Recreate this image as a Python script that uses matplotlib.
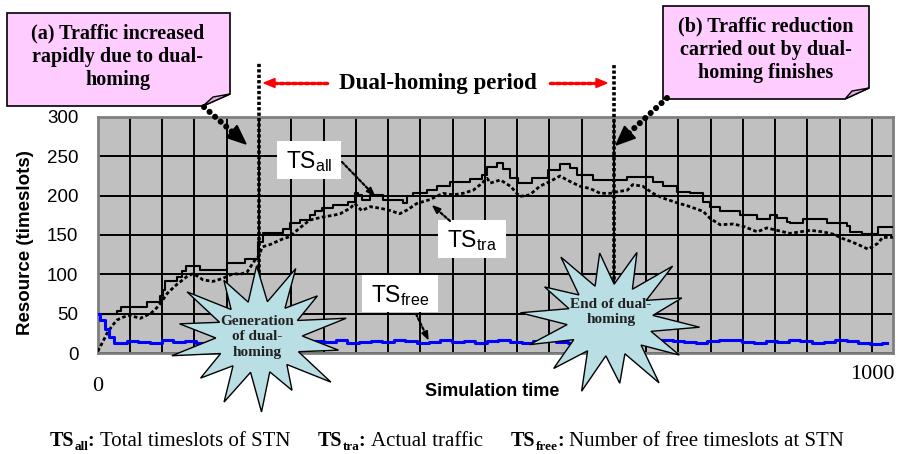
import numpy as np
import matplotlib
matplotlib.use('Agg')
import matplotlib.pyplot as plt
from matplotlib.patches import Polygon, Rectangle
import matplotlib.transforms as mtransforms

plt.rcParams['mathtext.fontset'] = 'custom'
plt.rcParams['mathtext.rm'] = 'Liberation Serif'
plt.rcParams['mathtext.bf'] = 'Liberation Serif:bold'
plt.rcParams['mathtext.sf'] = 'Liberation Sans'

# ---------------- data ----------------
all_x = [0, 25, 30, 64, 80, 84, 87, 102, 109, 114, 132, 167, 190, 207, 213, 239, 248, 261, 274, 281,
         290, 304, 323, 332, 336, 341, 352, 368, 394, 400, 407, 425, 438, 455, 481, 496, 503, 516, 523, 532,
         543, 561, 582, 597, 610, 619, 640, 684, 717, 730, 748, 765, 782, 791, 804, 830, 851, 868, 877, 890,
         894, 911, 942, 968, 972, 987, 1008, 1027]
all_y = [50, 54, 59, 65, 72, 80, 91, 97, 104, 110, 106, 114, 120, 141, 152, 158, 165, 169, 175, 180,
         184, 188, 192, 204, 201, 195, 201, 195, 191, 199, 204, 207, 212, 218, 221, 226, 237, 241, 234, 222,
         216, 222, 233, 240, 235, 226, 220, 224, 218, 212, 205, 203, 192, 186, 181, 175, 170, 175, 171, 167,
         165, 170, 165, 161, 154, 151, 160, 160]

tra_x = [0, 7, 12, 19, 25, 34, 42, 48, 55, 61, 68, 74, 81, 90, 102, 115, 123, 130, 136, 149,
         162, 175, 184, 193, 203, 207, 213, 223, 232, 239, 248, 261, 274, 291, 304, 313, 326, 332, 341, 352,
         365, 378, 390, 400, 412, 429, 446, 459, 472, 485, 494, 503, 507, 520, 533, 545, 558, 571, 584, 597,
         610, 623, 636, 649, 662, 671, 684, 691, 704, 717, 730, 748, 762, 782, 791, 804, 821, 834, 852, 864,
         877, 894, 907, 920, 937, 950, 961, 972, 984, 995, 1007, 1014, 1027]
tra_y = [2, 15, 25, 35, 42, 46, 48, 46, 44, 47, 50, 55, 63, 76, 87, 97, 101, 97, 93, 91,
         95, 101, 100, 103, 118, 122, 135, 138, 142, 145, 148, 159, 169, 173, 175, 177, 184, 190, 181, 186,
         184, 181, 177, 182, 190, 195, 203, 201, 203, 207, 214, 222, 216, 220, 212, 199, 201, 212, 218, 225,
         218, 212, 209, 203, 203, 205, 207, 214, 212, 203, 197, 191, 187, 180, 171, 163, 164, 161, 154, 159,
         156, 152, 154, 156, 154, 151, 146, 142, 137, 132, 139, 147, 147]

free_x = [0, 6, 12, 18, 24] + list(range(30, 1021, 15))
free_y = [50, 42, 30, 20, 13,
          13, 15, 14, 13, 16, 14, 15, 13, 14, 16, 15, 13, 14, 15, 17, 14, 13, 15, 14, 16,
          13, 14, 15, 14, 16, 15, 13, 14, 16, 14, 15, 13, 15, 17, 14, 13, 15, 16, 14, 13,
          15, 14, 16, 17, 15, 13, 14, 16, 15, 14, 13, 15, 17, 16, 14, 13, 15, 14, 16, 15,
          13, 14, 16, 15, 13, 12, 13]

y_ticks = [0, 50, 100, 150, 200, 250, 300]
x_labels = ['0', '1000']
x_label_vals = [0, 1000]
dual_period = [208.3, 666.7]

# ---------------- figure ----------------
W, H = 898, 454
fig = plt.figure(figsize=(W / 100, H / 100), dpi=100)
ax = fig.add_axes([97.7 / W, 101 / H, 795.6 / W, 236 / H])
ax.set_facecolor('#c0c0c0')
ax.set_xlim(0, 1027.5)
ax.set_ylim(0, 300)
ax.set_xticks([k * 1000 / 24 for k in range(25)])
ax.set_xticklabels([])
ax.set_yticks(y_ticks)
ax.set_yticklabels([str(v) for v in y_ticks], fontfamily='Liberation Sans', fontsize=13.5)
ax.tick_params(axis='both', length=0)
ax.tick_params(axis='y', pad=14)
ax.grid(True, color='black', lw=1.4)
ax.set_axisbelow(True)
for s in ax.spines.values():
    s.set_color('#7f7f7f')
    s.set_linewidth(2)

ax.plot(all_x, all_y, color='black', lw=1.5, drawstyle='steps-post', zorder=3)
ax.plot(tra_x, tra_y, color='black', lw=2.0, linestyle=(0, (1.3, 0.9)), zorder=3)
ax.plot(free_x, free_y, color='#0000ff', lw=2.2, drawstyle='steps-mid', zorder=3)

# dual-homing period vertical lines
ax.plot([dual_period[0]] * 2, [67, 370], color='black', lw=2.6, linestyle=(0, (0.9, 0.6)),
        clip_on=False, zorder=4)
ax.plot([dual_period[1]] * 2, [86, 366], color='black', lw=2.6, linestyle=(0, (0.9, 0.6)),
        clip_on=False, zorder=4)

ax.set_ylabel('Resource (timeslots)', fontfamily='Liberation Sans', fontweight='bold',
              fontsize=13.5, va='center')
ax.yaxis.set_label_coords((25 - 97.7) / 795.6, 0.466)

bl = mtransforms.blended_transform_factory(ax.transData, ax.transAxes)
ax.text(x_label_vals[0], -0.14, x_labels[0], transform=bl, ha='center', va='center',
        fontfamily='Liberation Serif', fontsize=16)
ax.text(x_label_vals[1], -0.093, x_labels[1], transform=bl, ha='center', va='center',
        fontfamily='Liberation Serif', fontsize=16)

# ---------------- overlay (pixel coords) ----------------
ov = fig.add_axes([0, 0, 1, 1])
ov.set_xlim(0, W)
ov.set_ylim(H, 0)
ov.axis('off')
ov.patch.set_alpha(0)
ov.set_zorder(5)


def arrow(x0, y0, x1, y1, color, lw, ls, hl, hw, z=10):
    d = np.hypot(x1 - x0, y1 - y0)
    ux, uy = (x1 - x0) / d, (y1 - y0) / d
    bx, by = x1 - ux * hl * 0.8, y1 - uy * hl * 0.8
    ov.plot([x0, bx], [y0, by], color=color, lw=lw, linestyle=ls, dash_capstyle='round',
            solid_capstyle='round', zorder=z)
    hx, hy = x1 - ux * hl, y1 - uy * hl
    px, py = -uy, ux
    ov.add_patch(Polygon([(x1, y1), (hx + px * hw / 2, hy + py * hw / 2),
                          (hx - px * hw / 2, hy - py * hw / 2)], closed=True,
                         facecolor=color, edgecolor=color, zorder=z))


def star(cx, cy, rx, ry, radii, rot, inner=0.48):
    n = len(radii)
    pts = []
    for i, r in enumerate(radii):
        a = rot + 2 * np.pi * i / n
        pts.append((cx + rx * r * np.cos(a), cy + ry * r * np.sin(a)))
        a2 = a + np.pi / n
        pts.append((cx + rx * inner * np.cos(a2), cy + ry * inner * np.sin(a2)))
    ov.add_patch(Polygon(pts, closed=True, facecolor='#b9dee4', edgecolor='black', lw=1.0, zorder=8))


# callout (a)
ov.add_patch(Polygon([(7, 13), (230, 13), (230, 94), (203, 106), (7, 106)], closed=True,
                     facecolor='#ffccff', edgecolor='black', lw=1.2, zorder=6))
ov.add_patch(Polygon([(203, 106), (213, 97), (230, 94)], closed=True,
                     facecolor='#e3b0e3', edgecolor='black', lw=1.0, zorder=6))
ov.text(118, 57, '(a) Traffic increased\nrapidly due to dual-\nhoming', ha='center', va='center',
        fontfamily='Liberation Serif', fontweight='bold', fontsize=14.5, linespacing=1.22, zorder=7)

# callout (b)
ov.add_patch(Polygon([(663, 6), (869, 6), (869, 88), (845, 99), (663, 99)], closed=True,
                     facecolor='#ffccff', edgecolor='black', lw=1.2, zorder=6))
ov.add_patch(Polygon([(845, 99), (852, 91), (869, 88)], closed=True,
                     facecolor='#e3b0e3', edgecolor='black', lw=1.0, zorder=6))
ov.text(766, 50, '(b) Traffic reduction\ncarried out by dual-\nhoming finishes', ha='center',
        va='center', fontfamily='Liberation Serif', fontweight='bold', fontsize=14.5,
        linespacing=1.22, zorder=7)

# black dotted arrows from callouts
arrow(204, 107, 246, 144, 'black', 4.4, (0, (0.01, 1.2)), 19, 16)
arrow(667, 98, 616, 145, 'black', 4.4, (0, (0.01, 1.2)), 19, 16)

# dual-homing period text and red arrows
ov.text(438, 83, 'Dual-homing period', ha='center', va='center', fontfamily='Liberation Serif',
        fontweight='bold', fontsize=16.5, zorder=7)
arrow(327, 83, 264, 83, 'red', 2.5, (0, (1.0, 0.8)), 11, 9)
arrow(550, 83, 607, 83, 'red', 2.5, (0, (1.0, 0.8)), 11, 9)

# starbursts
star(259, 337, 90, 75, [1.0, 0.85, 1.0, 0.9, 1.0, 0.8, 1.0, 0.95, 0.85, 1.0, 0.9, 1.0, 0.85, 0.95],
     -1.15)
ov.text(257, 337, 'Generation\nof dual-\nhoming', ha='center', va='center', color='#222222',
        fontfamily='Liberation Serif', fontweight='bold', fontsize=11, linespacing=1.25, zorder=9)
star(610, 320, 90, 75, [0.95, 1.0, 0.85, 1.0, 0.9, 1.0, 0.85, 1.0, 0.9, 0.95, 1.0, 0.85, 1.0, 0.9],
     -1.25)
ov.text(611, 312, 'End of dual-\nhoming', ha='center', va='center', color='#222222',
        fontfamily='Liberation Serif', fontweight='bold', fontsize=11, linespacing=1.25, zorder=9)

# in-plot series labels
for (bx, by, bw, bh, lab) in [(277, 141, 64, 38, r'$\mathsf{TS}_{\mathsf{all}}$'),
                              (438, 220, 68, 38, r'$\mathsf{TS}_{\mathsf{tra}}$'),
                              (362, 275, 76, 37, r'$\mathsf{TS}_{\mathsf{free}}$')]:
    ov.add_patch(Rectangle((bx, by), bw, bh, facecolor='white', edgecolor='none', zorder=6))
    ov.text(bx + bw / 2, by + bh / 2 + 2, lab, ha='center', va='center', fontsize=16.5, zorder=7)

arrow(342, 162, 374, 195, 'black', 1.6, (0, (1.2, 1.0)), 8, 6)
arrow(450, 221, 433, 206, 'black', 1.6, (0, (1.2, 1.0)), 8, 6)
arrow(416, 314, 428, 339, 'black', 1.6, (0, (1.2, 1.0)), 8, 6)

# x label
ov.text(492, 391, 'Simulation time', ha='center', va='center', fontfamily='Liberation Sans',
        fontweight='bold', fontsize=13, zorder=7)

# caption, built piece by piece
renderer = fig.canvas.get_renderer()


def piece(x, y, s, **kw):
    t = ov.text(x, y, s, ha='left', va='baseline', fontfamily='Liberation Serif', zorder=7, **kw)
    bb = t.get_window_extent(renderer=renderer)
    return x + bb.width


cap = [(50, 'all', 'Total timeslots of STN'),
       (318, 'tra', 'Actual traffic'),
       (511, 'free', 'Number of free timeslots at STN')]
for x, sub, rest in cap:
    x = piece(x, 446, 'TS', fontsize=14.5, fontweight='bold')
    x = piece(x, 450, sub, fontsize=9.5, fontweight='bold')
    x = piece(x, 446, ': ', fontsize=14.5, fontweight='bold')
    piece(x, 446, rest, fontsize=15)

fig.savefig('out.png', dpi=100)
